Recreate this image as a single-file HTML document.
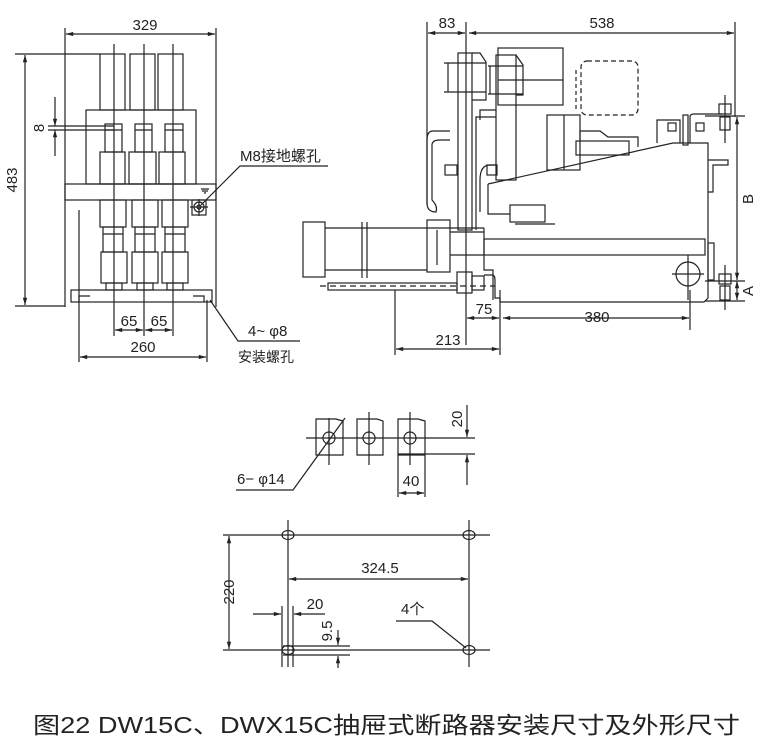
<!DOCTYPE html>
<html><head><meta charset="utf-8"><style>
html,body{margin:0;padding:0;background:#fff;width:763px;height:747px;overflow:hidden}
svg{display:block}
text{font-family:"Liberation Sans","Noto Sans CJK SC",sans-serif;fill:#222}
</style></head><body>
<svg width="763" height="747" viewBox="0 0 763 747" xmlns="http://www.w3.org/2000/svg">
<defs>
<marker id="a" viewBox="0 0 10 10" refX="10" refY="5" markerWidth="8" markerHeight="6" orient="auto-start-reverse"><path d="M0,2 L10,5 L0,8z" fill="#222"/></marker>
</defs>
<g stroke="#222" stroke-width="1.2" fill="none">
<!-- ===== LEFT VIEW ===== -->
<line x1="65" y1="28" x2="65" y2="307"/><line x1="216" y1="28" x2="216" y2="307"/>
<line x1="66" y1="34" x2="215" y2="34" marker-start="url(#a)" marker-end="url(#a)"/>
<line x1="15" y1="54" x2="100" y2="54"/><line x1="15" y1="306" x2="65" y2="306"/>
<line x1="25" y1="55" x2="25" y2="305" marker-start="url(#a)" marker-end="url(#a)"/>
<rect x="100" y="54" width="25" height="56"/><rect x="130" y="54" width="25" height="56"/><rect x="158" y="54" width="25" height="56"/>
<rect x="86" y="110" width="110" height="74"/>
<rect x="105" y="124" width="17" height="28"/><rect x="135" y="124" width="17" height="28"/><rect x="165" y="124" width="18" height="28"/>
<line x1="105" y1="130" x2="122" y2="130"/><line x1="135" y1="130" x2="152" y2="130"/><line x1="165" y1="130" x2="183" y2="130"/>
<rect x="100" y="152" width="25" height="32"/><rect x="129" y="152" width="27" height="32"/><rect x="159" y="152" width="26" height="32"/>
<rect x="65" y="184" width="151" height="16"/>
<rect x="100" y="200" width="26" height="27"/><rect x="132" y="200" width="26" height="27"/><rect x="162" y="200" width="26" height="27"/>
<rect x="103" y="227" width="20" height="25"/><rect x="135" y="227" width="20" height="25"/><rect x="165" y="227" width="20" height="25"/>
<line x1="103" y1="234" x2="123" y2="234"/><line x1="135" y1="234" x2="155" y2="234"/><line x1="165" y1="234" x2="185" y2="234"/>
<rect x="101" y="252" width="26" height="31"/><rect x="132" y="252" width="26" height="31"/><rect x="162" y="252" width="26" height="31"/>
<rect x="106" y="283" width="16" height="7"/><rect x="137" y="283" width="16" height="7"/><rect x="167" y="283" width="16" height="7"/>
<rect x="71" y="290" width="141" height="12"/>
<path d="M79,302 V296 H90"/><path d="M193,296 H204 V302"/>
<line x1="114" y1="44" x2="114" y2="336"/><line x1="144" y1="44" x2="144" y2="336"/><line x1="173" y1="44" x2="173" y2="336"/>
<line x1="79" y1="210" x2="79" y2="362"/><line x1="207" y1="300" x2="207" y2="362"/>
<line x1="115" y1="330" x2="143" y2="330" marker-start="url(#a)" marker-end="url(#a)"/>
<line x1="145" y1="330" x2="172" y2="330" marker-start="url(#a)" marker-end="url(#a)"/>
<line x1="80" y1="357" x2="206" y2="357" marker-start="url(#a)" marker-end="url(#a)"/>
<line x1="48" y1="126" x2="114" y2="126"/><line x1="48" y1="130" x2="114" y2="130"/>
<line x1="55" y1="97" x2="55" y2="126" marker-end="url(#a)"/><line x1="55" y1="156" x2="55" y2="130" marker-end="url(#a)"/>
<rect x="192" y="200" width="14" height="15"/><circle cx="199" cy="207" r="5"/><circle cx="199" cy="207" r="2"/>
<line x1="199" y1="199" x2="199" y2="216"/><line x1="190" y1="207" x2="208" y2="207"/>
<path d="M201,189 H209 M202,191 H208 M204,193 H206"/>
<path d="M201,205 L240,166 H328"/>
<path d="M210,300 L238,341 H300"/>
<!-- ===== RIGHT VIEW ===== -->
<line x1="427" y1="22" x2="427" y2="205"/><line x1="466" y1="22" x2="466" y2="345"/><line x1="735" y1="22" x2="735" y2="117"/>
<line x1="428" y1="33" x2="465" y2="33" marker-start="url(#a)" marker-end="url(#a)"/>
<line x1="469" y1="33" x2="734" y2="33" marker-start="url(#a)" marker-end="url(#a)"/>
<!-- body -->
<path d="M488,184 L673,143 H708 V298 L704,302 H500"/>
<path d="M488,184 V214 H510"/>
<rect x="510" y="205" width="35" height="17"/><line x1="515" y1="224" x2="555" y2="224"/>
<path d="M484,228 V270 H493 V300"/>
<rect x="484" y="239" width="221" height="16"/>
<rect x="708" y="243" width="6" height="37"/>
<path d="M708,160 H728 V165 H713 V192 H708"/>
<circle cx="688" cy="274" r="12"/><line x1="672" y1="274" x2="704" y2="274"/><line x1="688" y1="255" x2="688" y2="300"/>
<path d="M657,143 V120 H680 V143"/><rect x="683" y="115" width="5" height="30"/><rect x="668" y="123" width="8" height="8"/>
<path d="M690,143 V117 Q690,114 694,114 H722"/><rect x="696" y="123" width="8" height="8"/>
<rect x="576" y="141" width="53" height="14"/><path d="M580,141 V131 H600 L608,137 H638 V147"/>
<!-- connectors/upper -->
<rect x="458" y="53" width="14" height="177"/><path d="M472,53 H480 L486,62 V100 H472"/>
<line x1="444" y1="63" x2="486" y2="63"/><line x1="444" y1="92" x2="486" y2="92"/>
<line x1="448" y1="63" x2="448" y2="92"/>
<rect x="496" y="55" width="20" height="125"/><path d="M516,55 L523,65 V95 H516"/>
<line x1="488" y1="66" x2="523" y2="66"/><line x1="488" y1="94" x2="523" y2="94"/>
<line x1="490" y1="66" x2="490" y2="94"/>
<rect x="498" y="48" width="65" height="57"/><line x1="498" y1="80" x2="563" y2="80"/>
<rect x="581" y="61" width="57" height="54" rx="6" stroke-dasharray="5,3"/>
<line x1="576" y1="70" x2="576" y2="110" stroke-dasharray="4,3"/>
<rect x="547" y="115" width="33" height="55"/><line x1="564" y1="115" x2="564" y2="170"/>
<path d="M476,230 V117 H496 M480,120 V110 H496"/>
<path d="M450,131 H433 Q427,131 427,140 V203 Q427,212 436,212 Q438,206 432,200 V145 Q432,140 440,140 H450"/>
<rect x="445" y="165" width="12" height="10"/><rect x="487" y="165" width="10" height="10"/>
<path d="M480,212 V180 Q480,165 490,165 H497"/>
<!-- lower left -->
<rect x="303" y="222" width="22" height="55"/>
<path d="M325,228 H484 M325,270 H427"/>
<line x1="362" y1="222" x2="362" y2="278"/><line x1="367" y1="222" x2="367" y2="278"/>
<rect x="427" y="220" width="23" height="52"/>
<path d="M437,230 V265 M450,232 H484 M450,255 H484"/>
<rect x="328" y="283" width="129" height="7"/>
<line x1="320" y1="286" x2="495" y2="286" stroke-dasharray="6,4"/>
<rect x="457" y="272" width="15" height="21"/><rect x="472" y="276" width="12" height="14"/>
<path d="M484,275 H492 Q495,275 495,280 V298 H500 V302"/>
<!-- bolts -->
<rect x="719" y="104" width="12" height="10"/><rect x="720" y="117" width="10" height="13"/>
<line x1="725" y1="95" x2="725" y2="143"/><line x1="705" y1="116" x2="745" y2="116"/>
<rect x="719" y="274" width="12" height="10"/><rect x="720" y="286" width="10" height="14"/>
<line x1="725" y1="265" x2="725" y2="310"/><line x1="705" y1="281" x2="745" y2="281"/><line x1="705" y1="301" x2="745" y2="301"/>
<line x1="737" y1="117" x2="737" y2="280" marker-start="url(#a)" marker-end="url(#a)"/>
<line x1="737" y1="281" x2="737" y2="300" marker-start="url(#a)" marker-end="url(#a)"/>
<!-- bottom dims -->
<line x1="500" y1="290" x2="500" y2="355"/><line x1="395" y1="290" x2="395" y2="355"/><line x1="690" y1="290" x2="690" y2="330"/>
<line x1="467" y1="318" x2="499" y2="318" marker-start="url(#a)" marker-end="url(#a)"/>
<line x1="503" y1="318" x2="689" y2="318" marker-start="url(#a)" marker-end="url(#a)"/>
<line x1="396" y1="349" x2="499" y2="349" marker-start="url(#a)" marker-end="url(#a)"/>
<!-- ===== BUSBAR ===== -->
<path d="M316,455 V419 H336 L343,421 V455 Z"/><path d="M357,455 V419 H377 L383,421 V455 Z"/><path d="M398,455 V419 H418 L425,421 V455 Z"/>
<circle cx="329" cy="438" r="6"/><circle cx="369" cy="438" r="6"/><circle cx="410" cy="438" r="6"/>
<line x1="306" y1="438" x2="475" y2="438"/><line x1="398" y1="454" x2="475" y2="454"/>
<line x1="329" y1="418" x2="329" y2="465"/><line x1="369" y1="412" x2="369" y2="465"/><line x1="410" y1="412" x2="410" y2="465"/>
<line x1="467" y1="405" x2="467" y2="437" marker-end="url(#a)"/><line x1="467" y1="485" x2="467" y2="455" marker-end="url(#a)"/>
<line x1="398" y1="455" x2="398" y2="497"/><line x1="425" y1="455" x2="425" y2="497"/>
<line x1="399" y1="493" x2="424" y2="493" marker-start="url(#a)" marker-end="url(#a)"/>
<path d="M236,490 H293 L345,418"/>
<!-- ===== MOUNTING ===== -->
<line x1="223" y1="535" x2="490" y2="535"/><line x1="223" y1="650" x2="490" y2="650"/>
<line x1="288" y1="520" x2="288" y2="667"/><line x1="469" y1="520" x2="469" y2="667"/>
<ellipse cx="288" cy="535" rx="6" ry="4.5"/><ellipse cx="469" cy="535" rx="6" ry="4.5"/>
<ellipse cx="288" cy="650" rx="6" ry="4.5"/><ellipse cx="469" cy="650" rx="6" ry="4.5"/>
<line x1="229" y1="536" x2="229" y2="649" marker-start="url(#a)" marker-end="url(#a)"/>
<line x1="289" y1="579" x2="468" y2="579" marker-start="url(#a)" marker-end="url(#a)"/>
<line x1="282" y1="606" x2="282" y2="667"/><line x1="293" y1="606" x2="293" y2="667"/>
<line x1="253" y1="614" x2="281" y2="614" marker-end="url(#a)"/><line x1="325" y1="614" x2="294" y2="614" marker-end="url(#a)"/>
<line x1="283" y1="646" x2="350" y2="646"/><line x1="283" y1="655" x2="350" y2="655"/>
<line x1="338" y1="630" x2="338" y2="645" marker-end="url(#a)"/><line x1="338" y1="668" x2="338" y2="656" marker-end="url(#a)"/>
<path d="M396,621 H432 L466,648"/>
</g>
<g font-size="15">
<text x="145" y="30" text-anchor="middle">329</text>
<text transform="translate(17,180) rotate(-90)" text-anchor="middle">483</text>
<text transform="translate(44,128) rotate(-90)" text-anchor="middle">8</text>
<text x="240" y="161">M8接地螺孔</text>
<text x="129" y="326" text-anchor="middle">65</text><text x="159" y="326" text-anchor="middle">65</text>
<text x="143" y="352" text-anchor="middle">260</text>
<text x="248" y="336">4~ φ8</text>
<text x="238" y="362" font-size="14">安装螺孔</text>
<text x="447" y="28" text-anchor="middle">83</text>
<text x="602" y="28" text-anchor="middle">538</text>
<text transform="translate(753,199) rotate(-90)" text-anchor="middle">B</text>
<text transform="translate(753,291) rotate(-90)" text-anchor="middle">A</text>
<text x="484" y="314" text-anchor="middle">75</text>
<text x="597" y="322" text-anchor="middle">380</text>
<text x="448" y="345" text-anchor="middle">213</text>
<text transform="translate(462,419) rotate(-90)" text-anchor="middle">20</text>
<text x="411" y="486" text-anchor="middle">40</text>
<text x="237" y="484">6− φ14</text>
<text transform="translate(234,592) rotate(-90)" text-anchor="middle">220</text>
<text x="380" y="573" text-anchor="middle">324.5</text>
<text x="315" y="609" text-anchor="middle">20</text>
<text transform="translate(332,631) rotate(-90)" text-anchor="middle">9.5</text>
<text x="401" y="614">4个</text>
</g>
<text x="33" y="733" font-size="23" textLength="707" lengthAdjust="spacingAndGlyphs">图22 DW15C、DWX15C抽屉式断路器安装尺寸及外形尺寸</text>
</svg>
</body></html>
